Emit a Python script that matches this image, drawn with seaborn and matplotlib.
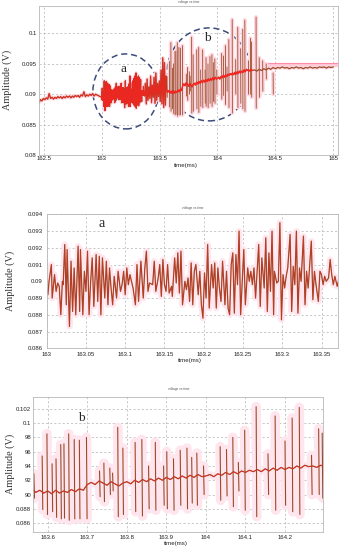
import numpy as np
import pandas as pd
import matplotlib
matplotlib.use("Agg")
import matplotlib.pyplot as plt
import seaborn as sns
from matplotlib.patches import Ellipse

# ---- data ----
# region "a" (zoomed in panel 2), time in ms / amplitude in V
a_t = [163.000, 163.0015, 163.003, 163.006, 163.007, 163.010, 163.012, 163.014, 163.016, 163.018,
       163.020, 163.021, 163.023, 163.025, 163.026, 163.029, 163.031, 163.033, 163.035, 163.037,
       163.040, 163.042, 163.043, 163.046, 163.048, 163.050, 163.052, 163.054, 163.056, 163.058,
       163.060, 163.063, 163.065, 163.067, 163.069, 163.071, 163.074, 163.076, 163.078, 163.080,
       163.082, 163.084, 163.086, 163.089, 163.091, 163.094, 163.096, 163.098, 163.100, 163.102,
       163.104, 163.106, 163.110, 163.113, 163.115, 163.117, 163.120, 163.123, 163.125, 163.127,
       163.129, 163.131,
       163.135, 163.137, 163.139, 163.142, 163.144, 163.146, 163.148, 163.150, 163.152, 163.154,
       163.156, 163.159, 163.160, 163.163, 163.165, 163.167, 163.169, 163.171, 163.173, 163.176,
       163.178, 163.180, 163.182, 163.184, 163.186, 163.188, 163.190, 163.193, 163.195, 163.197,
       163.199, 163.201, 163.203, 163.205, 163.207, 163.210, 163.212, 163.214, 163.216, 163.218,
       163.220, 163.222, 163.224, 163.227, 163.229, 163.231, 163.233, 163.235, 163.237, 163.239,
       163.241, 163.243, 163.245, 163.247,
       163.251, 163.253, 163.256, 163.258, 163.260, 163.262, 163.264, 163.266, 163.268, 163.270,
       163.272, 163.274, 163.277, 163.279, 163.281, 163.283, 163.285, 163.287, 163.289, 163.290,
       163.293, 163.295, 163.297, 163.299, 163.301, 163.303, 163.305, 163.307, 163.310, 163.312,
       163.314, 163.316, 163.318, 163.320, 163.322, 163.324, 163.327, 163.329, 163.331, 163.333,
       163.335, 163.337, 163.339, 163.341, 163.343, 163.346, 163.348, 163.350, 163.352, 163.354,
       163.356, 163.359, 163.361, 163.363, 163.365, 163.367, 163.370, 163.372, 163.374]
a_v = [0.0895, 0.0892, 0.0900, 0.0910, 0.0890, 0.0904, 0.0894, 0.0899, 0.0897, 0.0880,
       0.0900, 0.0898, 0.0922, 0.0886, 0.0919, 0.0873, 0.0912, 0.0882, 0.0908, 0.0880,
       0.0921, 0.0882, 0.0919, 0.0880, 0.0906, 0.0894, 0.0918, 0.0880, 0.0900, 0.0914,
       0.0885, 0.0916, 0.0888, 0.0915, 0.0880, 0.0914, 0.0890, 0.0912, 0.0886, 0.0908,
       0.0896, 0.0886, 0.0903, 0.0890, 0.0906, 0.0894, 0.0898, 0.0906, 0.0892, 0.0908,
       0.0898, 0.0904, 0.0896, 0.0886, 0.0910, 0.0888, 0.0912, 0.0890, 0.0908, 0.0918,
       0.0894, 0.0899,
       0.0898, 0.0912, 0.0894, 0.0902, 0.0910, 0.0891, 0.0913, 0.0898, 0.0894, 0.0910,
       0.0893, 0.0897, 0.0891, 0.0914, 0.0899, 0.0917, 0.0893, 0.0918, 0.0886, 0.0900,
       0.0895, 0.0902, 0.0888, 0.0911, 0.0886, 0.0906, 0.0910, 0.0892, 0.0906, 0.0886,
       0.0878, 0.0905, 0.0890, 0.0922, 0.0884, 0.0910, 0.0896, 0.0911, 0.0884, 0.0908,
       0.0896, 0.0888, 0.0912, 0.0886, 0.0906, 0.0884, 0.0880, 0.0910, 0.0917, 0.0881,
       0.0916, 0.0898, 0.0930, 0.0880,
       0.0919, 0.0886, 0.0908, 0.0900, 0.0906, 0.0898, 0.0908, 0.0890, 0.0906, 0.0922,
       0.0885, 0.0914, 0.0896, 0.0926, 0.0882, 0.0917, 0.0894, 0.0930, 0.0880, 0.0906,
       0.0899, 0.0900, 0.0935, 0.0877, 0.0904, 0.0896, 0.0903, 0.0908, 0.0928, 0.0882,
       0.0909, 0.0898, 0.0930, 0.0881, 0.0908, 0.0900, 0.0927, 0.0886, 0.0906, 0.0896,
       0.0910, 0.0924, 0.0889, 0.0906, 0.0898, 0.0888, 0.0906, 0.0904, 0.0898, 0.0903,
       0.0900, 0.0902, 0.0913, 0.0904, 0.0898, 0.0903, 0.0897, 0.0901, 0.0898]

# region "b" (panel 3): slow baseline every 0.01 ms from 163.56 plus spikes
b_base_v = [0.0908, 0.0903, 0.0906, 0.0902, 0.0905, 0.0901, 0.0906, 0.0902, 0.0905, 0.0903,
            0.0907, 0.0904, 0.0908, 0.0906, 0.0914, 0.0917, 0.0914, 0.0919, 0.0916, 0.0913,
            0.0918, 0.0915, 0.0912, 0.0916, 0.0918, 0.0915, 0.0920, 0.0917, 0.0921, 0.0918,
            0.0922, 0.0919, 0.0923, 0.0920, 0.0924, 0.0921, 0.0925, 0.0922, 0.0926, 0.0923,
            0.0927, 0.0924, 0.0928, 0.0925, 0.0926, 0.0928, 0.0925, 0.0929, 0.0927, 0.0931,
            0.0928, 0.0932, 0.0929, 0.0933, 0.0931, 0.0934, 0.0932, 0.0935, 0.0932, 0.0936,
            0.0933, 0.0937, 0.0934, 0.0938, 0.0935, 0.0938, 0.0936, 0.0940, 0.0937, 0.0941,
            0.0939, 0.0940, 0.0938, 0.0941, 0.0939]
spk_t = [163.565, 163.586, 163.598, 163.611, 163.621, 163.633, 163.641, 163.653, 163.667, 163.680,
         163.698, 163.731, 163.742, 163.757, 163.764, 163.777, 163.790, 163.821, 163.838, 163.855,
         163.872, 163.893, 163.901, 163.918, 163.935, 163.952, 163.964, 163.977, 163.994, 164.036,
         164.052, 164.068, 164.082, 164.098, 164.127, 164.157, 164.175, 164.200, 164.218, 164.236,
         164.267, 164.285, 164.294]
spk_hi = [0.0929, 0.0954, 0.0985, 0.0943, 0.0950, 0.0970, 0.0971, 0.0985, 0.0977, 0.0976,
          0.0980, 0.0933, 0.0944, 0.0937, 0.0930, 0.0994, 0.0965, 0.0973, 0.0977, 0.0940,
          0.0973, 0.0940, 0.0960, 0.0950, 0.0962, 0.0965, 0.0952, 0.0958, 0.0940, 0.0967,
          0.0963, 0.0980, 0.0945, 0.0990, 0.1023, 0.0957, 0.1010, 0.0975, 0.1007, 0.1022,
          0.0955, 0.0992, 0.0986]
spk_lo = [0.0895, 0.0879, 0.0872, 0.0876, 0.0868, 0.0866, 0.0867, 0.0864, 0.0866, 0.0866,
          0.0866, 0.0897, 0.0890, 0.0900, 0.0905, 0.0869, 0.0872, 0.0876, 0.0870, 0.0880,
          0.0878, 0.0885, 0.0880, 0.0878, 0.0885, 0.0880, 0.0888, 0.0885, 0.0900, 0.0892,
          0.0898, 0.0883, 0.0905, 0.0878, 0.0869, 0.0900, 0.0878, 0.0885, 0.0876, 0.0872,
          0.0900, 0.0900, 0.0895]

# overview only: before "a", between "a" and "b", after "b"
pre_v = [0.0886, 0.0891, 0.0889, 0.0893, 0.0891, 0.0894, 0.0892, 0.0901, 0.0893, 0.0895,
         0.0892, 0.0895, 0.0893, 0.0896, 0.0894, 0.0896, 0.0893, 0.0896, 0.0894, 0.0897,
         0.0895, 0.0897, 0.0894, 0.0897, 0.0895, 0.0898, 0.0896, 0.0898, 0.0895, 0.0899,
         0.0897, 0.0904, 0.0896, 0.0899, 0.0897, 0.0900, 0.0898, 0.0901, 0.0897, 0.0900]
gap_t = [163.378, 163.386, 163.393, 163.400, 163.408, 163.416, 163.423, 163.431, 163.438, 163.446,
         163.453, 163.461, 163.468, 163.476, 163.483, 163.491, 163.498, 163.506, 163.513, 163.521,
         163.528, 163.536, 163.543, 163.551, 163.558]
gap_v = [0.0918, 0.0884, 0.0925, 0.0890, 0.0912, 0.0893, 0.0930, 0.0886, 0.0915, 0.0895,
         0.0928, 0.0885, 0.0935, 0.0890, 0.0918, 0.0896, 0.0922, 0.0888, 0.0940, 0.0884,
         0.0960, 0.0878, 0.0952, 0.0882, 0.0930]
post_v = [0.0940, 0.0938, 0.0941, 0.0939, 0.0942, 0.0940, 0.0943, 0.0941, 0.0944, 0.0942,
          0.0944, 0.0943, 0.0945, 0.0943, 0.0944, 0.0942, 0.0944, 0.0943, 0.0945, 0.0943,
          0.0944, 0.0942, 0.0944, 0.0943, 0.0945, 0.0943, 0.0944, 0.0943, 0.0945, 0.0944,
          0.0945, 0.0943, 0.0945, 0.0944, 0.0945]
post_spk_t = [164.333, 164.360, 164.390, 164.420, 164.480]
post_spk_hi = [0.1027, 0.0960, 0.0955, 0.0950, 0.0935]
post_spk_lo = [0.0877, 0.0895, 0.0905, 0.0925, 0.0900]
band_t = [164.36, 165.04]
band_lo = [0.0944, 0.0944]
band_hi = [0.0951, 0.0951]

# sample times of the evenly sampled pieces
pre_t = list(np.round(162.46 + 0.0125 * np.arange(len(pre_v)), 4))
b_base_t = list(np.round(163.56 + 0.01 * np.arange(len(b_base_v)), 3))
post_t = list(np.round(164.32 + 0.02 * np.arange(len(post_v)), 3))

BROWN = "#9a4a28"
RED = "#ff1f1f"
PINK = "#ffd8e2"
PALE = "#ffe6ee"
SW = 0.0015  # spike width in ms


def spikes_df(t, hi, lo):
    rows = []
    for i in range(len(t)):
        rows.append((i, t[i], hi[i]))
        rows.append((i, t[i] + SW, lo[i]))
    return pd.DataFrame(rows, columns=["id", "t", "v"])


def style(ax, xlim, ylim, xt, xtl, yt, ytl, ylab_x, xlab_y, tpad, ypad, xpad):
    ax.set_xlim(xlim)
    ax.set_ylim(ylim)
    ax.set_xticks(xt)
    ax.set_xticklabels(xtl, fontsize=4.3, color="#222222")
    ax.set_yticks(yt)
    ax.set_yticklabels(ytl, fontsize=4.3, color="#222222")
    ax.tick_params(length=0, pad=ypad, axis="y")
    ax.tick_params(length=0, pad=xpad, axis="x")
    ax.grid(True, ls=(0, (3, 3)), color="#b0b0b0", lw=0.5)
    ax.set_axisbelow(True)
    for s in ax.spines.values():
        s.set_color("#b8b8b8")
        s.set_linewidth(0.6)
    ax.set_ylabel("Amplitude (V)", family="Liberation Serif", fontsize=7.3, color="#333333")
    ax.yaxis.set_label_coords(ylab_x, 0.5)
    ax.set_xlabel("time(ms)", fontsize=4.4, color="#222222")
    ax.xaxis.set_label_coords(0.49, xlab_y)
    ax.set_title("voltage vs time", fontsize=2.3, color="#555555", pad=tpad)


sns.set_style("white")
plt.rcParams["font.family"] = ["Liberation Sans", "DejaVu Sans"]

fig = plt.figure(figsize=(3.41, 5.5), dpi=100)

# ---- panel 1: overview ----
ax1 = fig.add_axes([0.1144, 0.7182, 0.8768, 0.2718])
line1 = pd.DataFrame({"t": pre_t + a_t + gap_t + b_base_t + post_t,
                      "v": pre_v + a_v + gap_v + b_base_v + post_v})
sp1 = spikes_df(spk_t + post_spk_t, spk_hi + post_spk_hi, spk_lo + post_spk_lo)
ax1.fill_between(band_t, band_lo, band_hi, color="#ffc9d5", lw=0)
ax1.plot(band_t, band_hi, color="#ff8ca4", lw=0.8)
sns.lineplot(data=sp1, x="t", y="v", units="id", estimator=None, color=PINK, lw=3, ax=ax1)
sns.lineplot(data=line1, x="t", y="v", estimator=None, color=PINK, lw=2.5, ax=ax1)
sns.lineplot(data=sp1, x="t", y="v", units="id", estimator=None, color=BROWN, lw=0.6, ax=ax1)
sns.lineplot(data=line1, x="t", y="v", estimator=None, color=BROWN, lw=0.9, ax=ax1)
red1 = line1[line1["t"] < 163.56]
sns.lineplot(data=red1, x="t", y="v", estimator=None, color=RED, lw=0.6, alpha=0.8, ax=ax1)
sns.lineplot(x=b_base_t, y=b_base_v, estimator=None, color=RED, lw=0.9, ax=ax1)
style(ax1, (162.46, 165.04), (0.08, 0.1046),
      [162.5, 163, 163.5, 164, 164.5, 165], ["162.5", "163", "163.5", "164", "164.5", "165"],
      [0.08, 0.085, 0.09, 0.095, 0.1], ["0.08", "0.085", "0.09", "0.095", "0.1"],
      -0.09, -0.054, 1.5, 1.5, 1.0)
ecol = "#3c4c7c"
ax1.add_patch(Ellipse((163.209, 0.09046), 0.5675, 0.01234, fill=False, ec=ecol,
                      lw=1.1, ls=(0, (4, 2.5))))
ax1.add_patch(Ellipse((163.927, 0.09326), 0.731, 0.0153, fill=False, ec=ecol,
                      lw=1.1, ls=(0, (4, 2.5))))
ax1.text(163.192, 0.09416, "a", family="Liberation Serif", fontsize=9.5, ha="center", va="center")
ax1.text(163.914, 0.09926, "b", family="Liberation Serif", fontsize=9.5, ha="center", va="center")

# ---- panel 2: zoom on a ----
ax2 = fig.add_axes([0.1369, 0.3667, 0.8543, 0.2436])
sns.lineplot(x=a_t, y=a_v, estimator=None, color=PALE, lw=4.5, ax=ax2)
sns.lineplot(x=a_t, y=a_v, estimator=None, color=BROWN, lw=0.9, ax=ax2)
sns.lineplot(x=a_t, y=a_v, estimator=None, color=RED, lw=0.5, alpha=0.35, ax=ax2)
style(ax2, (163.0, 163.371), (0.086, 0.094),
      [163, 163.05, 163.1, 163.15, 163.2, 163.25, 163.3, 163.35],
      ["163", "163.05", "163.1", "163.15", "163.2", "163.25", "163.3", "163.35"],
      [0.086, 0.087, 0.088, 0.089, 0.09, 0.091, 0.092, 0.093, 0.094],
      ["0.086", "0.087", "0.088", "0.089", "0.09", "0.091", "0.092", "0.093", "0.094"],
      -0.109, -0.072, 4, 3, 2.5)
ax2.text(163.070, 0.09348, "a", family="Liberation Serif", fontsize=10, ha="center", va="center")

# ---- panel 3: zoom on b ----
ax3 = fig.add_axes([0.0977, 0.0333, 0.8504, 0.2455])
sp3 = spikes_df(spk_t, spk_hi, spk_lo)
sns.lineplot(data=sp3, x="t", y="v", units="id", estimator=None, color=PALE, lw=7, ax=ax3)
sns.lineplot(x=b_base_t, y=b_base_v, estimator=None, color=PALE, lw=5, ax=ax3)
sns.lineplot(data=sp3, x="t", y="v", units="id", estimator=None, color=BROWN, lw=0.8, ax=ax3)
sns.lineplot(x=b_base_t, y=b_base_v, estimator=None, color=BROWN, lw=0.9, ax=ax3)
sns.lineplot(x=b_base_t, y=b_base_v, estimator=None, color=RED, lw=0.5, alpha=0.7, ax=ax3)
style(ax3, (163.5636, 164.2968), (0.0848, 0.1037),
      [163.6, 163.7, 163.8, 163.9, 164, 164.1, 164.2],
      ["163.6", "163.7", "163.8", "163.9", "164", "164.1", "164.2"],
      [0.086, 0.088, 0.09, 0.092, 0.094, 0.096, 0.098, 0.1, 0.102],
      ["0.086", "0.088", "90", "92", "94", "96", "98", "0.1", "0.102"],
      -0.063, -0.069, 5, 1.5, 2.5)
ax3.text(163.684, 0.10074, "b", family="Liberation Serif", fontsize=9.5, ha="center", va="center")

fig.savefig("out.png", dpi=100)
